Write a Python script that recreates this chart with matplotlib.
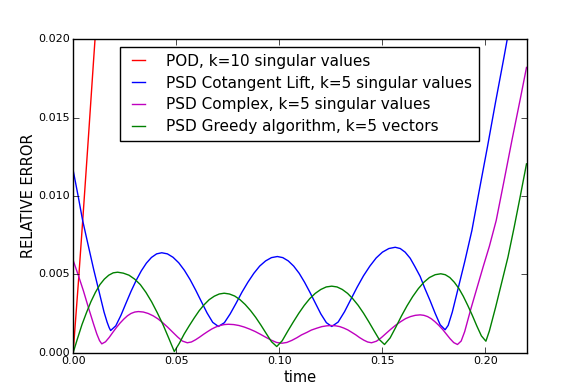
import numpy as np
import matplotlib
matplotlib.use("Agg")
import matplotlib.pyplot as plt

# values: time in units of 1e-3, error in units of 1e-3
red_t = [0, 2.5, 5, 7.5, 10, 12]
red_e = [0, 4.4, 9.1, 13.9, 18.8, 22.6]

blue_t = [0, 2.5, 4.6, 7.5, 10, 12.5, 15, 16.5, 17.5, 18.2, 20.7, 23.2, 25.64, 28.1, 30.6,
          33.1, 35.56, 38.0, 40.52, 43.0, 45.75, 48.5, 51.25, 54.0, 56.75, 59.5, 62.25, 65.0,
          67.75, 70.5, 73.4, 76.2, 79.08, 81.9, 84.8, 87.7, 90.52, 93.4, 96.24, 99.1, 101.74,
          104.4, 107.02, 109.7, 112.3, 114.9, 117.58, 120.2, 122.9, 125.5, 128.6, 131.7,
          134.74, 137.8, 140.9, 144.0, 147.06, 150.1, 153.22, 156.3, 158.72, 161.1, 163.56,
          165.8, 168.4, 170.6, 173.24, 175.7, 178.1, 180.5, 182, 184, 187, 190, 193.5, 197,
          201, 205, 209, 213]
blue_e = [11.65, 9.95, 8.45, 6.75, 5.3, 3.95, 2.6, 1.95, 1.6, 1.42, 1.72, 2.39, 3.16, 3.92,
          4.62, 5.23, 5.72, 6.08, 6.31, 6.38, 6.31, 6.09, 5.74, 5.26, 4.67, 3.99, 3.26, 2.54,
          1.94, 1.68, 1.92, 2.48, 3.16, 3.86, 4.50, 5.07, 5.53, 5.86, 6.07, 6.14, 6.07, 5.86,
          5.53, 5.07, 4.50, 3.86, 3.16, 2.48, 1.92, 1.68, 1.96, 2.62, 3.40, 4.18, 4.91, 5.53,
          6.05, 6.42, 6.65, 6.73, 6.65, 6.42, 6.03, 5.51, 4.87, 4.13, 3.32, 2.51, 1.79, 1.47,
          1.75, 2.6, 4.2, 5.8, 7.8, 10.3, 13.1, 16.0, 18.8, 21.7]

mag_t = [0, 2.5, 5, 7.5, 10, 11.5, 12.8, 13.9, 15.7, 17.5, 19.24, 21.0, 22.8, 24.6, 26.36,
         28.1, 29.92, 31.7, 34.07, 36.4, 38.81, 41.2, 43.55, 45.9, 48.29, 50.7, 53.0, 55.4,
         57.4, 59.4, 61.37, 63.4, 65.35, 67.3, 69.33, 71.3, 73.31, 75.3, 77.9, 80.5, 83.1,
         85.7, 88.3, 90.9, 93.5, 96.1, 98.7, 101.3, 103.7, 106.1, 108.56, 110.8, 113.4,
         115.6, 118.24, 120.7, 123.08, 125.5, 127.43, 129.4, 131.29, 133.3, 135.15, 137.1,
         139.01, 141.0, 142.9, 144.8, 147.2, 149.5, 151.88, 154.2, 156.6, 159.0, 161.32,
         163.7, 166.04, 168.4, 170.21, 172.0, 173.83, 175.6, 177.45, 179.3, 181.07, 182.9,
         184.7, 186.5, 188.3, 190, 193, 196, 199, 202, 205.3, 209, 213, 217, 220]
mag_e = [5.9, 4.95, 3.95, 2.85, 1.8, 1.2, 0.78, 0.57, 0.70, 0.98, 1.30, 1.61, 1.90, 2.15,
         2.36, 2.51, 2.60, 2.63, 2.60, 2.51, 2.36, 2.16, 1.91, 1.63, 1.32, 1.01, 0.75, 0.64,
         0.69, 0.83, 1.00, 1.19, 1.36, 1.52, 1.65, 1.74, 1.80, 1.82, 1.80, 1.74, 1.64, 1.51,
         1.36, 1.18, 0.99, 0.81, 0.66, 0.61, 0.66, 0.79, 0.96, 1.14, 1.30, 1.45, 1.57, 1.67,
         1.72, 1.74, 1.72, 1.67, 1.58, 1.46, 1.31, 1.15, 0.97, 0.81, 0.69, 0.64, 0.74, 0.96,
         1.24, 1.51, 1.77, 1.99, 2.18, 2.31, 2.39, 2.42, 2.39, 2.31, 2.17, 1.98, 1.75, 1.49,
         1.20, 0.90, 0.65, 0.53, 0.75, 1.35, 2.8, 4.15, 5.5, 6.8, 8.44, 10.9, 13.6, 16.2, 18.2]

green_t = [0, 2.15, 4.3, 6.45, 8.6, 10.8, 13.0, 15.15, 17.3, 19.45, 21.6, 24.35, 27.1, 29.85,
           32.6, 35.35, 38.1, 40.85, 43.6, 46.35, 49.1, 51.5, 53.9, 56.36, 58.8, 61.2, 63.6,
           66.04, 68.5, 70.88, 73.3, 75.85, 78.4, 80.95, 83.5, 86.05, 88.6, 91.15, 93.7,
           96.25, 98.8, 101.47, 104.1, 106.81, 109.5, 112.15, 114.8, 117.49, 120.2, 122.83,
           125.5, 128.06, 130.6, 133.18, 135.7, 138.3, 140.9, 143.42, 146.0, 148.54, 151.1,
           153.83, 156.6, 159.29, 162.0, 164.75, 167.5, 170.21, 172.9, 175.67, 178.4, 180.59,
           182.8, 184.97, 187.2, 189.35, 191.5, 193.73, 195.9, 198.11, 200.3, 202, 205, 208,
           211, 214, 217, 220]
green_e = [0, 0.92, 1.8, 2.55, 3.25, 3.85, 4.35, 4.7, 4.95, 5.1, 5.14, 5.08, 4.95, 4.7, 4.35,
           3.85, 3.25, 2.55, 1.8, 0.95, 0.08, 0.6, 1.2, 1.73, 2.23, 2.69, 3.07, 3.39, 3.61,
           3.75, 3.80, 3.75, 3.62, 3.39, 3.08, 2.70, 2.26, 1.76, 1.23, 0.71, 0.40, 0.77, 1.37,
           1.96, 2.52, 3.02, 3.45, 3.79, 4.04, 4.20, 4.25, 4.20, 4.04, 3.79, 3.45, 3.03, 2.53,
           1.99, 1.41, 0.85, 0.53, 0.95, 1.64, 2.34, 2.99, 3.58, 4.09, 4.50, 4.80, 4.98, 5.04,
           4.98, 4.80, 4.50, 4.10, 3.60, 3.02, 2.38, 1.71, 1.08, 0.74, 1.4, 2.9, 4.5, 6.1, 8.0,
           10.0, 12.05]

labels = ["POD, k=10 singular values",
          "PSD Cotangent Lift, k=5 singular values",
          "PSD Complex, k=5 singular values",
          "PSD Greedy algorithm, k=5 vectors"]

plt.style.use("classic")
fig = plt.figure(figsize=(5.85, 3.92), dpi=100, facecolor="white")
ax = fig.add_axes([0.125, 0.1, 0.775, 0.8])

sc = 1e-3
ax.plot(np.array(red_t) * sc, np.array(red_e) * sc, color="r", lw=1.0, label=labels[0])
ax.plot(np.array(blue_t) * sc, np.array(blue_e) * sc, color="b", lw=1.0, label=labels[1])
ax.plot(np.array(mag_t) * sc, np.array(mag_e) * sc, color="m", lw=1.0, label=labels[2])
ax.plot(np.array(green_t) * sc, np.array(green_e) * sc, color="g", lw=1.0, label=labels[3])

ax.set_xlim(0, 0.22)
ax.set_ylim(0, 0.02)
ax.set_xticks([0, 0.05, 0.10, 0.15, 0.20])
ax.set_yticks([0, 0.005, 0.010, 0.015, 0.020])
ax.xaxis.set_major_formatter(matplotlib.ticker.FormatStrFormatter("%.2f"))
ax.yaxis.set_major_formatter(matplotlib.ticker.FormatStrFormatter("%.3f"))
ax.tick_params(labelsize=8, length=4, pad=2)
ax.set_xlabel("time", fontsize=10.5, labelpad=3)
ax.set_ylabel("RELATIVE ERROR", fontsize=10.5, labelpad=2)

leg = ax.legend(loc="upper center", fontsize=11, handlelength=1.45,
                handletextpad=1.1, borderpad=0.45, labelspacing=0.45)
leg.get_frame().set_linewidth(1.0)

fig.savefig("out.png", dpi=100, facecolor="white")
